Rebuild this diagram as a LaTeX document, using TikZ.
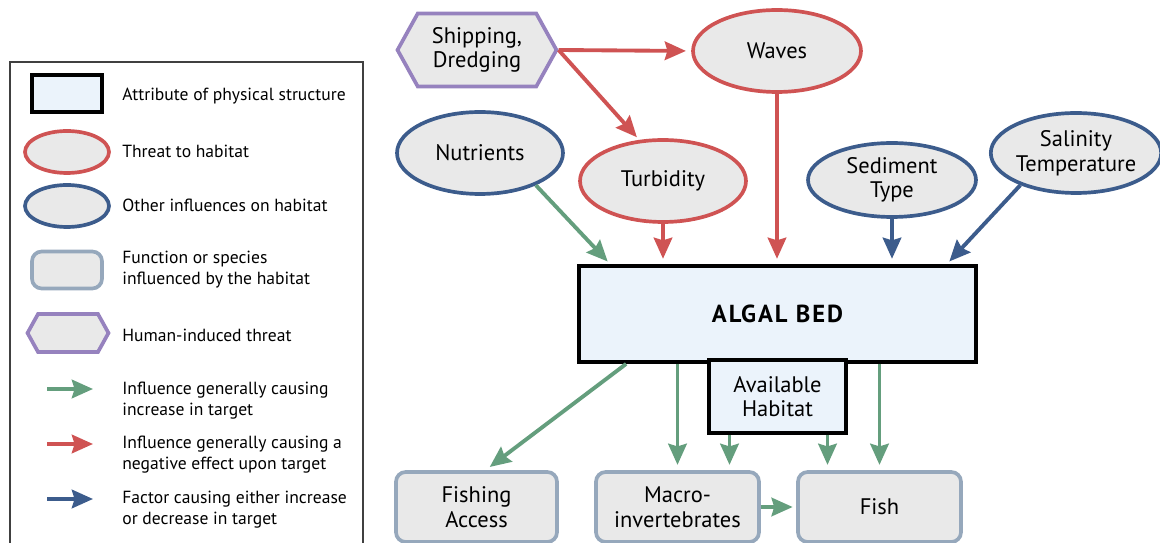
\documentclass[tikz,border=0pt]{standalone}
\usepackage{fontspec}
\setmainfont{PT Sans}
\usetikzlibrary{shapes.geometric,shapes.symbols,arrows.meta,calc}
\definecolor{redc}{RGB}{207,83,83}
\definecolor{bluec}{RGB}{60,92,140}
\definecolor{greenc}{RGB}{100,158,125}
\definecolor{purplec}{RGB}{150,130,190}
\definecolor{boxc}{RGB}{150,168,188}
\definecolor{fillc}{RGB}{233,233,233}
\definecolor{algc}{RGB}{235,243,251}
\begin{document}
\begin{tikzpicture}[x=0.02cm,y=-0.02cm,
  every node/.style={font=\fontsize{12.8}{14}\selectfont, align=center, inner sep=0pt},
  threat/.style={ellipse, draw=redc, fill=fillc, line width=2.1pt},
  other/.style={ellipse, draw=bluec, fill=fillc, line width=2.1pt},
  func/.style={rectangle, rounded corners=5.5pt, draw=boxc, fill=fillc, line width=2.1pt},
  human/.style={signal, signal to=west and east, signal pointer angle=122, draw=purplec, fill=fillc, line width=2.1pt},
  attr/.style={rectangle, draw=black, fill=algc, line width=2.2pt},
  arr/.style={line width=2.2pt, -{Stealth[length=12pt,width=10.5pt,inset=1.5pt]}},
  garr/.style={arr, draw=greenc, fill=greenc},
  rarr/.style={arr, draw=redc, fill=redc},
  barr/.style={arr, draw=bluec, fill=bluec},
  legtext/.style={anchor=west, align=left, font=\fontsize{10}{12}\selectfont}
]
\useasboundingbox (0,0) rectangle (1160,543);
% legend
\draw[line width=0.9pt, draw=black!75] (10,62) rectangle (363,600);
\node[attr, minimum width=1.40cm, minimum height=0.74cm] (l1) at (67,93.5) {};
\node[threat, minimum width=1.68cm, minimum height=0.84cm] (l2) at (67,152) {};
\node[other, minimum width=1.68cm, minimum height=0.84cm] (l3) at (67,206) {};
\node[func, minimum width=1.40cm, minimum height=0.74cm] (l4) at (67,270) {};
\node[human, minimum width=1.62cm, minimum height=0.76cm] (l5) at (68,333) {};
\coordinate (g1) at (47,389); \coordinate (g2) at (93,389);
\coordinate (r1) at (47,444); \coordinate (r2) at (93,444);
\coordinate (b1) at (47,499); \coordinate (b2) at (93,499);
\draw[garr] (g1) -- (g2);
\draw[rarr] (r1) -- (r2);
\draw[barr] (b1) -- (b2);
\node[legtext] (t1) at (122,96) {Attribute of physical structure};
\node[legtext] (t2) at (122,151) {Threat to habitat};
\node[legtext] (t3) at (122,205) {Other influences on habitat};
\node[legtext] (t4) at (122,270) {Function or species\\influenced by the habitat};
\node[legtext] (t5) at (122,335) {Human-induced threat};
\node[legtext] (t6) at (122,401) {Influence generally causing\\increase in target};
\node[legtext] (t7) at (122,455) {Influence generally causing a\\negative effect upon target};
\node[legtext] (t8) at (122,510) {Factor causing either increase\\or decrease in target};
% main nodes
\node[human, minimum width=3.18cm, minimum height=1.46cm] (ship) at (477,50) {Shipping,\\Dredging};
\node[threat, minimum width=3.36cm, minimum height=1.64cm] (waves) at (777,51) {Waves};
\node[other, minimum width=3.32cm, minimum height=1.64cm] (nutr) at (480,153) {Nutrients};
\node[threat, minimum width=3.32cm, minimum height=1.64cm] (turb) at (663,181) {Turbidity};
\node[other, minimum width=3.36cm, minimum height=1.48cm] (sed) at (892,180) {Sediment\\Type};
\node[other, minimum width=3.32cm, minimum height=1.60cm] (sal) at (1076,153) {Salinity\\Temperature};
\node[attr, minimum width=7.94cm, minimum height=1.92cm, font=\fontsize{14}{16}\selectfont\bfseries\addfontfeature{LetterSpace=8}] (alg) at (777.5,314) {ALGAL BED};
\node[attr, minimum width=2.74cm, minimum height=1.46cm] (avail) at (777.5,396.5) {Available\\Habitat};
\node[func, minimum width=3.22cm, minimum height=1.40cm] (fishing) at (476.5,507) {Fishing\\Access};
\node[func, minimum width=3.26cm, minimum height=1.40cm] (macro) at (677.5,507) {Macro-\\invertebrates};
\node[func, minimum width=3.26cm, minimum height=1.40cm] (fish) at (879.5,507) {Fish};
% connectors
\draw[rarr, shorten >=3pt] (ship.east) -- (waves.west);
\draw[rarr, shorten >=2pt] (ship.east) -- (turb.120);
\draw[garr, shorten >=2pt] (nutr.-30) -- ($(alg.north west)+(33,0)$);
\draw[rarr, shorten >=3pt] (turb.south) -- (turb.south |- alg.north);
\draw[rarr, shorten >=3pt] (waves.south) -- (waves.south |- alg.north);
\draw[barr, shorten >=3pt] (sed.south) -- (sed.south |- alg.north);
\draw[barr, shorten >=2pt] (sal.210) -- ($(alg.north east)+(-31,0)$);
\draw[garr, shorten >=3pt] ($(alg.south west)+(49,0)$) -- ($(fishing.north)+(9,0)$);
\draw[garr, shorten >=3pt] (alg.south -| macro.north) -- (macro.north);
\draw[garr, shorten >=3pt] ($(avail.south)+(-48,0)$) -- ($(macro.north)+(52,0)$);
\draw[garr, shorten >=3pt] ($(avail.south)+(50,0)$) -- ($(fish.north)+(-52,0)$);
\draw[garr, shorten >=3pt] (alg.south -| fish.north) -- (fish.north);
\draw[garr, shorten >=2pt] (macro.east) -- (fish.west);
\end{tikzpicture}
\end{document}
